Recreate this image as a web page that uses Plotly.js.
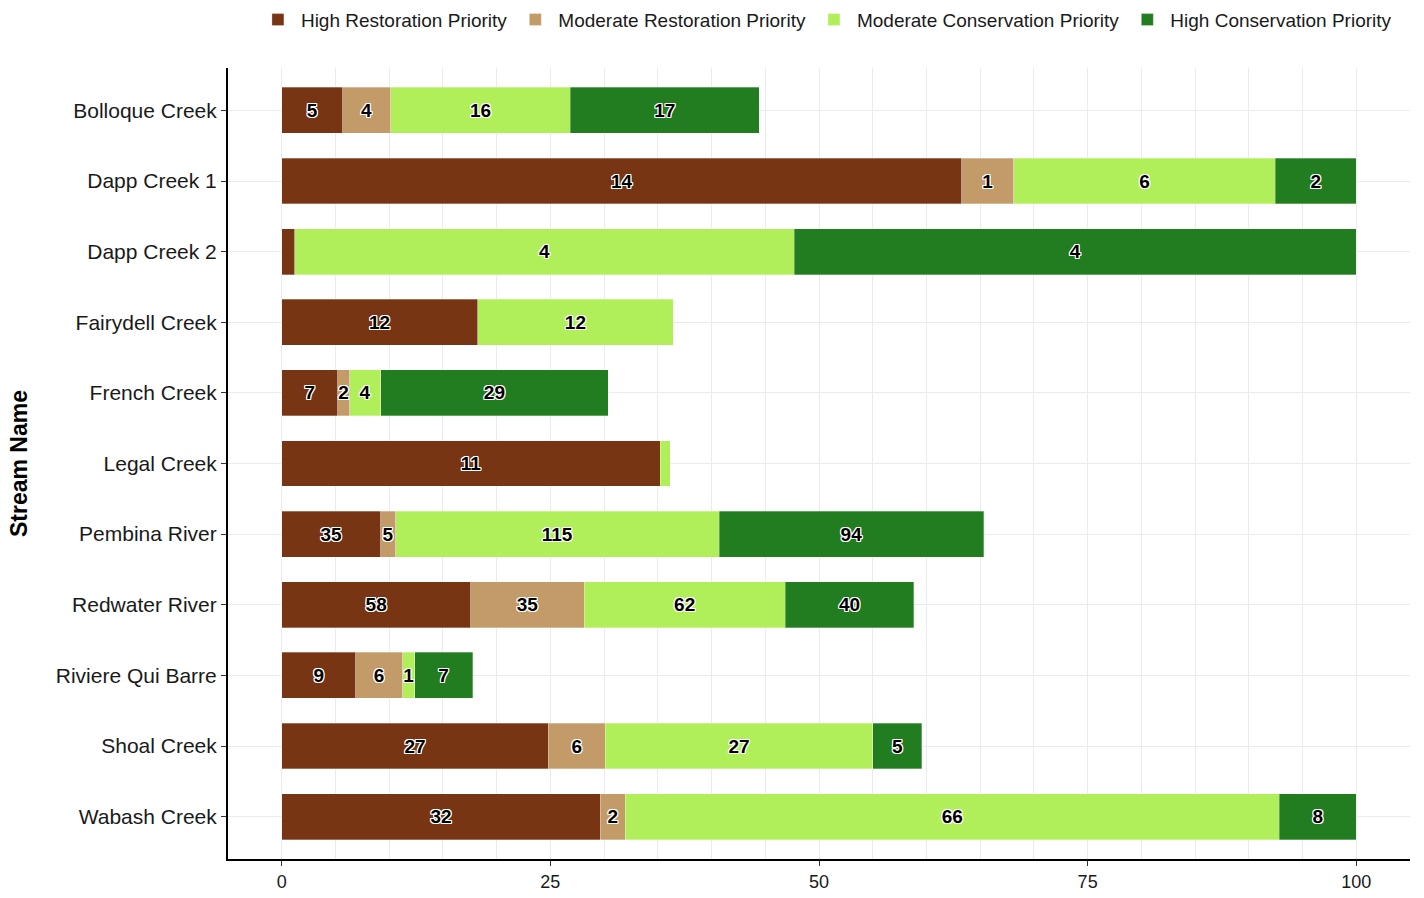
<!DOCTYPE html>
<html>
<head>
<meta charset="utf-8">
<script src="https://cdn.plot.ly/plotly-3.0.1.min.js"></script>
<style>html,body{margin:0;padding:0;background:#fff}#chart{width:1424px;height:898px}</style>
</head>
<body>
<div id="chart"></div>
<script>
const streams = ["Bolloque Creek","Dapp Creek 1","Dapp Creek 2","Fairydell Creek","French Creek","Legal Creek","Pembina River","Redwater River","Riviere Qui Barre","Shoal Creek","Wabash Creek"];

const highRestPct  = [5.67, 63.29, 1.21, 18.22, 5.2, 35.22, 9.2, 17.57, 6.88, 24.81, 29.65];
const highRestCnt  = [5, 14, null, 12, 7, 11, 35, 58, 9, 27, 32];
const modRestPct   = [4.46, 4.83, null, null, 1.12, null, 1.39, 10.59, 4.37, 5.3, 2.32];
const modRestCnt   = [4, 1, null, null, 2, null, 5, 35, 6, 6, 2];
const modConsPct   = [16.73, 24.35, 46.47, 18.22, 2.88, 0.93, 30.11, 18.68, 1.12, 24.91, 60.87];
const modConsCnt   = [16, 6, 4, 12, 4, null, 115, 62, 1, 27, 66];
const highConsPct  = [17.56, 7.53, 52.32, null, 21.19, null, 24.63, 11.99, 5.39, 4.55, 7.16];
const highConsCnt  = [17, 2, 4, null, 29, null, 94, 40, 7, 5, 8];

const seriesNames = ["High Restoration Priority","Moderate Restoration Priority","Moderate Conservation Priority","High Conservation Priority"];
const seriesColors = ["#773514","#c39b69","#b0ef5a","#217d1f"];
const seriesPct = [highRestPct, modRestPct, modConsPct, highConsPct];
const seriesCnt = [highRestCnt, modRestCnt, modConsCnt, highConsCnt];

const labelFont = {
  family: "Liberation Sans, Arial, sans-serif",
  size: 19, color: "#000", weight: 700,
  shadow: "1px 1px 0 #fff, -1px -1px 0 #fff, 1px -1px 0 #fff, -1px 1px 0 #fff, 0 1px 0 #fff, 0 -1px 0 #fff, 1px 0 0 #fff, -1px 0 0 #fff"
};

const traces = seriesNames.map((name, i) => ({
  type: "bar",
  orientation: "h",
  name: name,
  y: streams,
  x: seriesPct[i],
  text: seriesCnt[i].map(v => v === null ? "" : String(v)),
  textposition: "inside",
  insidetextanchor: "middle",
  textangle: 0,
  textfont: labelFont,
  constraintext: "none",
  marker: {color: seriesColors[i], line: {color: "rgba(255,255,255,0.5)", width: 0.6}},
  hoverinfo: "skip"
}));

const layout = {
  width: 1424, height: 898,
  margin: {l: 228, r: 14, t: 68, b: 39},
  barmode: "stack",
  bargap: 0.35,
  paper_bgcolor: "#fff",
  plot_bgcolor: "#fff",
  font: {family: "Liberation Sans, Arial, sans-serif", color: "#1a1a1a"},
  uniformtext: {mode: "show", minsize: 19},
  showlegend: true,
  legend: {
    orientation: "h", x: 0.58, xref: "container", xanchor: "center",
    y: 0.978, yref: "container", yanchor: "middle",
    font: {size: 19, color: "#1a1a1a", family: "Liberation Sans, Arial, sans-serif"},
    traceorder: "normal", itemwidth: 36
  },
  xaxis: {
    range: [-5, 105],
    tickvals: [0, 25, 50, 75, 100],
    showgrid: true, gridcolor: "#ebebeb", gridwidth: 1,
    minor: {dtick: 5, tick0: 0, showgrid: true, gridcolor: "#ebebeb", gridwidth: 1},
    zeroline: false,
    showline: true, linecolor: "#000", linewidth: 2,
    ticks: "outside", ticklen: 5, tickcolor: "#333", tickwidth: 1,
    tickfont: {size: 18, color: "#1a1a1a"},
    fixedrange: true
  },
  yaxis: {
    type: "category",
    categoryorder: "array", categoryarray: streams,
    range: [10.6, -0.6],
    showgrid: true, gridcolor: "#ebebeb", gridwidth: 1,
    zeroline: false,
    showline: true, linecolor: "#000", linewidth: 2,
    ticks: "outside", ticklen: 5, tickcolor: "#333", tickwidth: 1,
    tickfont: {size: 21, color: "#1a1a1a"},
    title: {text: "Stream Name", font: {size: 23, color: "#000", family: "Liberation Sans, Arial, sans-serif", weight: 700}, standoff: 22},
    fixedrange: true
  }
};

Plotly.newPlot("chart", traces, layout, {displayModeBar: false, staticPlot: true});
</script>
</body>
</html>
